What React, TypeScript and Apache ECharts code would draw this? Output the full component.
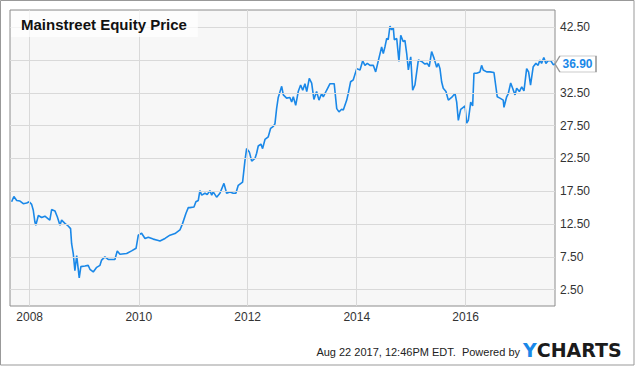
import React, { useEffect, useRef } from "react";
import * as echarts from "echarts";

const TITLE = "Mainstreet Equity Price";
const FOOTER = "Aug 22 2017, 12:46PM EDT.  Powered by";
const START_DATE = "2007-08-22";
const END_DATE = "2017-08-22";

const dates: string[] = [
  "2007-09-02", "2007-09-17", "2007-10-06", "2007-10-28", "2007-11-19", "2007-12-12", "2007-12-29",
  "2008-01-14", "2008-01-25", "2008-02-05", "2008-02-11", "2008-02-28", "2008-03-21", "2008-04-12",
  "2008-05-04", "2008-05-15", "2008-05-27", "2008-06-18", "2008-07-04", "2008-07-22", "2008-08-02",
  "2008-08-24", "2008-09-15", "2008-10-01", "2008-10-08", "2008-10-19", "2008-10-30", "2008-11-11",
  "2008-11-17", "2008-11-28", "2008-12-09", "2009-01-05", "2009-01-27", "2009-02-08", "2009-03-02",
  "2009-03-25", "2009-04-16", "2009-04-27", "2009-05-19", "2009-06-10", "2009-07-25", "2009-08-10",
  "2009-08-28", "2009-10-12", "2009-11-14", "2009-12-14", "2009-12-29", "2010-01-20", "2010-02-12",
  "2010-03-06", "2010-04-08", "2010-05-12", "2010-05-23", "2010-06-26", "2010-07-29", "2010-09-01",
  "2010-10-04", "2010-10-22", "2010-11-13", "2010-11-29", "2010-12-10", "2011-01-06", "2011-01-19",
  "2011-02-04", "2011-02-15", "2011-02-27", "2011-03-21", "2011-04-05", "2011-04-23", "2011-05-05",
  "2011-05-15", "2011-06-07", "2011-06-29", "2011-07-26", "2011-08-13", "2011-09-04", "2011-09-26",
  "2011-10-14", "2011-10-30", "2011-11-28", "2011-12-14", "2011-12-25", "2012-01-12", "2012-01-28",
  "2012-02-19", "2012-03-01", "2012-03-12", "2012-03-30", "2012-04-10", "2012-04-26", "2012-05-18",
  "2012-06-03", "2012-06-21", "2012-07-02", "2012-07-13", "2012-07-24", "2012-08-16", "2012-08-27",
  "2012-09-18", "2012-10-10", "2012-10-22", "2012-11-02", "2012-11-18", "2012-12-05", "2012-12-21",
  "2013-01-04", "2013-01-19", "2013-01-31", "2013-02-17", "2013-03-05", "2013-03-20", "2013-04-07",
  "2013-04-23", "2013-05-11", "2013-05-22", "2013-06-13", "2013-07-06", "2013-08-03", "2013-08-20",
  "2013-09-04", "2013-09-22", "2013-10-03", "2013-10-26", "2013-11-05", "2013-11-21", "2013-12-09",
  "2014-01-01", "2014-01-23", "2014-02-10", "2014-02-25", "2014-03-13", "2014-03-31", "2014-04-22",
  "2014-05-08", "2014-06-01", "2014-06-17", "2014-06-28", "2014-07-09", "2014-07-21", "2014-07-31",
  "2014-08-12", "2014-08-23", "2014-09-03", "2014-09-10", "2014-09-26", "2014-10-11", "2014-10-23",
  "2014-11-09", "2014-11-20", "2014-12-02", "2014-12-13", "2014-12-29", "2015-01-11", "2015-01-26",
  "2015-02-18", "2015-03-12", "2015-04-03", "2015-04-19", "2015-05-02", "2015-05-18", "2015-06-03",
  "2015-06-21", "2015-07-02", "2015-07-13", "2015-07-24", "2015-08-04", "2015-08-22", "2015-09-07",
  "2015-09-29", "2015-10-22", "2015-11-02", "2015-11-13", "2015-11-29", "2015-12-16", "2015-12-28",
  "2016-01-08", "2016-01-19", "2016-02-04", "2016-02-17", "2016-02-26", "2016-03-15", "2016-04-06",
  "2016-04-17", "2016-04-28", "2016-05-21", "2016-06-12", "2016-07-09", "2016-07-22", "2016-07-31",
  "2016-08-18", "2016-09-09", "2016-09-14", "2016-10-02", "2016-10-13", "2016-10-29", "2016-11-11",
  "2016-11-27", "2016-12-08", "2016-12-26", "2017-01-11", "2017-01-26", "2017-02-13", "2017-02-26",
  "2017-03-11", "2017-03-29", "2017-04-16", "2017-05-01", "2017-05-13", "2017-05-24", "2017-06-08",
  "2017-06-22", "2017-07-07", "2017-07-25", "2017-08-10", "2017-08-22",
];

const prices: number[] = [
  15.9, 16.7, 16.1, 16.0, 15.6, 15.7, 15.9,
  15.5, 14.6, 12.8, 12.3, 13.8, 13.5, 13.7,
  13.3, 13.1, 14.7, 14.5, 13.6, 12.3, 13.1,
  12.6, 12.2, 11.8, 9.5, 8.0, 5.4, 7.7,
  6.5, 4.3, 6.0, 6.1, 6.2, 5.6, 5.2,
  5.9, 6.2, 7.0, 7.5, 7.1, 7.1, 8.4,
  7.9, 8.0, 8.4, 8.8, 10.8, 11.1, 10.3,
  10.5, 10.2, 10.0, 9.9, 10.3, 10.8, 11.05,
  11.6, 12.6, 14.1, 15.0, 15.0, 15.1, 15.9,
  16.1, 17.6, 16.9, 17.2, 17.0, 17.6, 16.9,
  17.4, 16.6, 17.2, 18.7, 17.2, 17.4, 17.2,
  17.2, 18.4, 18.9, 22.2, 24.0, 23.5, 22.1,
  22.5, 23.3, 24.4, 24.7, 24.0, 25.4, 25.8,
  27.1, 27.4, 27.8, 30.1, 31.8, 33.5, 32.2,
  31.7, 31.8, 31.1, 31.9, 30.6, 32.7, 33.7,
  32.9, 33.9, 32.7, 34.7, 34.0, 31.5, 32.7,
  31.4, 32.4, 31.9, 32.9, 33.9, 33.9, 30.1,
  29.6, 30.0, 29.9, 31.4, 32.4, 34.2, 34.5,
  36.2, 36.0, 37.4, 36.7, 37.0, 36.7, 36.7,
  35.7, 38.0, 39.5, 38.5, 39.5, 40.8, 40.6,
  42.7, 42.1, 42.5, 40.6, 40.8, 37.3, 41.3,
  40.3, 40.5, 38.5, 36.0, 38.0, 32.9, 33.7,
  37.5, 37.3, 36.9, 37.0, 36.5, 38.8, 37.8,
  36.4, 37.0, 36.2, 34.2, 33.2, 32.7, 31.4,
  31.8, 32.4, 31.1, 28.3, 30.0, 30.3, 30.5,
  27.9, 28.3, 31.1, 30.5, 35.5, 35.5, 35.7,
  36.7, 36.0, 35.7, 35.7, 35.6, 33.4, 31.9,
  31.7, 31.4, 30.3, 31.9, 32.4, 34.0, 33.2,
  32.2, 33.2, 32.7, 33.4, 32.8, 36.2, 35.7,
  33.7, 36.5, 37.0, 36.7, 37.5, 37.0, 37.9,
  37.0, 37.4, 37.4, 36.8, 36.9,
];

const yearTicks: string[] = ["2008", "2010", "2012", "2014", "2016"];
const gridPrices: number[] = [2.5, 7.5, 12.5, 17.5, 22.5, 27.5, 32.5, 37.5, 42.5];
// 37.50 is covered by the last-price callout in the original, so it has no label
const labelPrices: number[] = [2.5, 7.5, 12.5, 17.5, 22.5, 27.5, 32.5, 42.5];

const FONT = "'Liberation Sans', Arial, sans-serif";
const BLUE = "#1a88e8";

const ts = (s: string) => new Date(s + "T00:00:00").getTime();

export default function App() {
  const ref = useRef<HTMLDivElement>(null);

  useEffect(() => {
    if (!ref.current) return;
    const chart = echarts.init(ref.current, null, { renderer: "svg" });
    const seriesData = dates.map((d, i) => [ts(d), prices[i]]);
    const last = seriesData[seriesData.length - 1];

    chart.setOption({
      animation: false,
      backgroundColor: "#ffffff",
      title: {
        text: TITLE,
        left: 11,
        top: 11,
        padding: [6, 11, 5, 10],
        backgroundColor: "rgba(255,255,255,0.7)",
        textStyle: { fontSize: 15, fontWeight: "bold", color: "#111", fontFamily: FONT },
      },
      grid: {
        show: true,
        left: 10,
        top: 10,
        width: 545,
        height: 296,
        backgroundColor: "#f7f7f7",
        borderColor: "#8c8c8c",
        borderWidth: 1,
      },
      xAxis: {
        type: "time",
        min: ts(START_DATE),
        max: ts(END_DATE),
        axisLabel: { show: false },
        axisLine: { show: false },
        axisTick: { show: false },
        splitLine: { show: false },
      },
      yAxis: {
        type: "value",
        position: "right",
        min: 0,
        max: 45.14,
        interval: 2.5,
        axisLine: { show: false },
        axisTick: { show: false },
        splitLine: { show: false },
        axisLabel: {
          margin: 5,
          color: "#333",
          fontSize: 12,
          fontFamily: FONT,
          showMaxLabel: false,
          formatter: (v: number) =>
            labelPrices.some((t) => Math.abs(t - v) < 1e-6) ? v.toFixed(2) : "",
        },
      },
      series: [
        {
          type: "line",
          data: [],
          z: 1,
          silent: true,
          markLine: {
            silent: true,
            symbol: ["none", "none"],
            animation: false,
            lineStyle: { color: "#d9d9d9", width: 1, type: "solid" },
            data: [
              ...gridPrices.map((p) => ({ yAxis: p, label: { show: false } })),
              ...yearTicks.map((y) => ({
                xAxis: ts(y + "-01-01"),
                label: {
                  show: true,
                  position: "start",
                  formatter: y,
                  color: "#333",
                  fontSize: 12,
                  fontFamily: FONT,
                  distance: 5,
                },
              })),
            ],
          },
        },
        {
          type: "line",
          z: 3,
          data: seriesData,
          showSymbol: false,
          lineStyle: { color: BLUE, width: 1.6 },
          itemStyle: { color: BLUE },
          markPoint: {
            silent: true,
            symbol: "path://M0,8L5,0L42,0L42,16L5,16Z",
            symbolSize: [41, 16],
            symbolOffset: [20.5, 0],
            itemStyle: { color: "#ffffff", borderColor: "#999", borderWidth: 1 },
            label: {
              show: true,
              position: "inside",
              offset: [2, 0],
              color: BLUE,
              fontWeight: "bold",
              fontSize: 12,
              fontFamily: FONT,
              formatter: () => (last[1] as number).toFixed(2),
            },
            data: [{ coord: last }],
          },
        },
      ],
      graphic: [
        {
          type: "rect",
          silent: true,
          shape: { x: 0.5, y: 0.5, width: 633.5, height: 364.5 },
          style: { fill: "none", stroke: "#999", lineWidth: 1 },
        },
        {
          type: "text",
          right: 115,
          top: 346,
          style: { text: FOOTER, fontSize: 11, fill: "#222", fontFamily: FONT },
        },
        {
          type: "text",
          left: 523,
          top: 340,
          style: {
            text: "{y|Y}{c|CHARTS}",
            rich: {
              y: { fontSize: 19, fontWeight: "bold", fill: "#1a88e8", fontFamily: "'DejaVu Sans', sans-serif" },
              c: { fontSize: 19, fontWeight: "bold", fill: "#1b1b1b", fontFamily: "'DejaVu Sans', sans-serif" },
            },
          },
        },
      ],
    });

    return () => chart.dispose();
  }, []);

  return (
    <div
      ref={ref}
      style={{ position: "absolute", left: 0, top: 0, width: 635, height: 366 }}
    />
  );
}
